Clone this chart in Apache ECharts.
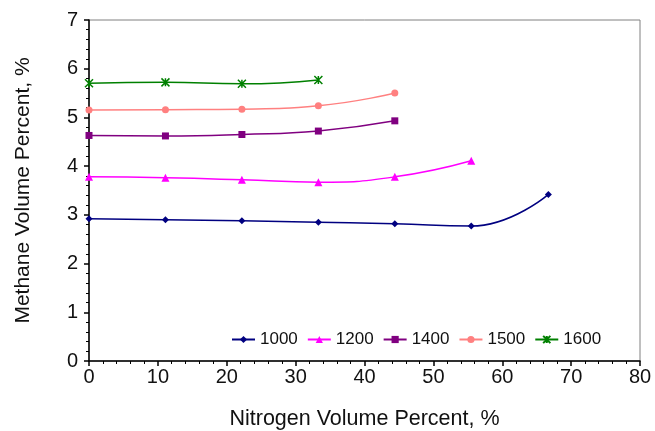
<!DOCTYPE html>
<html>
<head>
<meta charset="utf-8">
<script src="https://cdn.jsdelivr.net/npm/echarts@6/dist/echarts.min.js"></script>
<style>
  html, body { margin: 0; padding: 0; background: #fff; }
  #main { width: 655px; height: 431px; }
</style>
</head>
<body>
<div id="main"></div>
<script>
// nitrogen volume percent (x) for each measured point
const nitrogen = [0, 11.1, 22.2, 33.3, 44.4, 55.5, 66.7];

// methane volume percent per temperature
const t1000 = [2.92, 2.90, 2.88, 2.85, 2.82, 2.77, 3.42];
const t1200 = [3.78, 3.76, 3.72, 3.67, 3.78, 4.11];
const t1400 = [4.63, 4.62, 4.65, 4.72, 4.93];
const t1500 = [5.15, 5.16, 5.17, 5.24, 5.50];
const t1600 = [5.70, 5.72, 5.69, 5.77];

const seriesNames = ['1000', '1200', '1400', '1500', '1600'];

const xTicks = [0, 10, 20, 30, 40, 50, 60, 70, 80];
const yTicks = [0, 1, 2, 3, 4, 5, 6, 7];

const font = 'Liberation Sans, Arial, Helvetica, sans-serif';

function pairs(vals) {
  return vals.map((v, i) => [nitrogen[i], v]);
}

function line(name, vals, color, symbol, size, extra) {
  return Object.assign({
    name: name,
    type: 'line',
    data: pairs(vals),
    smooth: 0.5,
    symbol: symbol,
    symbolSize: size,
    lineStyle: { color: color, width: 1.5 },
    itemStyle: { color: color },
    emphasis: { disabled: true }
  }, extra || {});
}

const chart = echarts.init(document.getElementById('main'));

const option = {
  animation: false,
  backgroundColor: '#fff',
  grid: {
    left: 89, right: 15, top: 20, bottom: 70,
    containLabel: false, outerBoundsMode: 'none',
    show: true, borderColor: '#808080', borderWidth: 1
  },
  legend: {
    data: seriesNames,
    left: 226, top: 326,
    itemWidth: 23, itemHeight: 9, itemGap: 9,
    textStyle: { fontFamily: font, fontSize: 17, color: '#111' }
  },
  xAxis: {
    type: 'value',
    min: xTicks[0], max: xTicks[xTicks.length - 1], interval: 10,
    name: 'Nitrogen Volume Percent, %',
    nameLocation: 'middle', nameGap: 47,
    nameTextStyle: { fontFamily: font, fontSize: 21.5, color: '#111' },
    axisLine: { lineStyle: { color: '#000', width: 1.5 } },
    axisTick: { inside: false, length: 5, lineStyle: { color: '#000', width: 1.5 } },
    minorTick: { show: true, splitNumber: 5, length: 3, lineStyle: { color: '#000', width: 1 } },
    axisLabel: { margin: 6, fontFamily: font, fontSize: 20, color: '#111' },
    splitLine: { show: false }
  },
  yAxis: {
    type: 'value',
    min: yTicks[0], max: yTicks[yTicks.length - 1], interval: 1,
    name: 'Methane Volume Percent, %',
    nameLocation: 'middle', nameGap: 55,
    nameTextStyle: { fontFamily: font, fontSize: 21, color: '#111' },
    axisLine: { lineStyle: { color: '#000', width: 1.5 } },
    axisTick: { inside: false, length: 5, lineStyle: { color: '#000', width: 1.5 } },
    minorTick: { show: true, splitNumber: 5, length: 3, lineStyle: { color: '#000', width: 1 } },
    axisLabel: { margin: 11, fontFamily: font, fontSize: 20, color: '#111' },
    splitLine: { show: false }
  },
  series: [
    line('1000', t1000, '#000080', 'diamond', 7),
    line('1200', t1200, '#FF00FF', 'triangle', 8),
    line('1400', t1400, '#800080', 'rect', 7),
    line('1500', t1500, '#FF8080', 'circle', 7),
    line('1600', t1600, '#008000', 'path://M0,0L10,10M10,0L0,10M5,0L5,10', 8, {
      itemStyle: { color: '#008000', borderColor: '#008000', borderWidth: 1.5 }
    })
  ]
};

chart.setOption(option);
</script>
</body>
</html>
